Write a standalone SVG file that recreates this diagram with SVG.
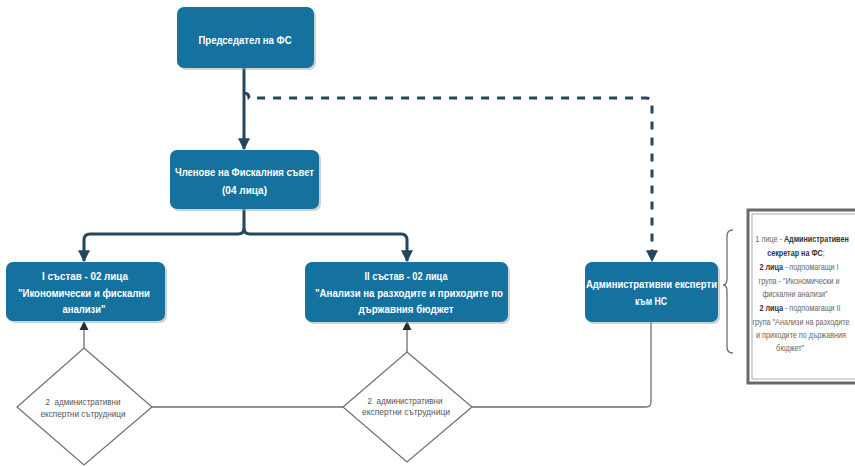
<svg xmlns="http://www.w3.org/2000/svg" width="855" height="466" viewBox="0 0 855 466">
<defs>
<style>
.box{fill:#15729f;}
.shadow{fill:#9aa6ad;opacity:0.5;}
.bt{font-family:"Liberation Sans",Arial,sans-serif;font-weight:bold;font-size:11px;fill:#ffffff;text-anchor:middle;}
.dt{font-family:"Liberation Sans",Arial,sans-serif;font-size:9px;fill:#555555;text-anchor:middle;}
.nt{font-family:"Liberation Sans",Arial,sans-serif;font-size:9.5px;fill:#666666;text-anchor:middle;}
.b{font-weight:bold;fill:#333333;}
.main{fill:none;stroke:#24465f;stroke-width:3;}
.thin{fill:none;stroke:#6e6e6e;stroke-width:1.3;}
.dia{fill:#ffffff;stroke:#6e6e6e;stroke-width:1.2;}
</style>
<marker id="ah" viewBox="0 0 10 10" refX="9" refY="5" markerWidth="4" markerHeight="4" orient="auto" markerUnits="strokeWidth">
<path d="M0,0 L10,5 L0,10 z" fill="#24465f"/>
</marker>
<marker id="ahs" viewBox="0 0 10 10" refX="9" refY="5" markerWidth="7" markerHeight="7" orient="auto" markerUnits="strokeWidth">
<path d="M0,0 L10,5 L0,10 z" fill="#1e2f3c"/>
</marker>
</defs>
<rect width="855" height="466" fill="#ffffff"/>

<g id="connectors">
<path class="main" d="M244,68 L244,149" marker-end="url(#ah)"/>
<path class="main" d="M244,93 q5,0 5,5 L646,98 q6,0 6,6 L652,261" stroke-dasharray="8,8" marker-end="url(#ah)"/>
<path class="main" d="M244,209 L244,228 q0,6 -6,6 L90,234 q-6,0 -6,6 L84,261" marker-end="url(#ah)"/>
<path class="main" d="M244,228 q0,6 6,6 L401,234 q6,0 6,6 L407,261" marker-end="url(#ah)"/>
<path class="thin" d="M84,348 L84,322" marker-end="url(#ahs)"/>
<path class="thin" d="M407,352 L407,322" marker-end="url(#ahs)"/>
<path class="thin" d="M152,407 L343,407"/>
<path class="thin" d="M472,407 L646,407 q5,0 5,-5 L651,322"/>
<path class="thin" d="M733,230 q-6,0 -6,6 L727,279 q0,6 -4,6 q4,0 4,6 L727,347 q0,6 6,6"/>
</g>

<g id="n1">
<rect class="shadow" x="179" y="9" width="137" height="61" rx="7"/>
<rect class="box" x="177" y="7" width="137" height="61" rx="7"/>
<text class="bt" x="245" y="44" textLength="93" lengthAdjust="spacingAndGlyphs">Председател на ФС</text>
</g>

<g id="n2">
<rect class="shadow" x="172" y="152" width="149" height="59" rx="7"/>
<rect class="box" x="170" y="150" width="149" height="59" rx="7"/>
<text class="bt" x="244.5" y="176" textLength="139" lengthAdjust="spacingAndGlyphs">Членове на Фискалния съвет</text>
<text class="bt" x="244.5" y="194" textLength="45" lengthAdjust="spacingAndGlyphs">(04 лица)</text>
</g>

<g id="n3">
<rect class="shadow" x="8" y="264" width="159" height="59" rx="7"/>
<rect class="box" x="6" y="262" width="159" height="59" rx="7"/>
<text class="bt" x="85" y="280" textLength="86" lengthAdjust="spacingAndGlyphs">I състав - 02 лица</text>
<text class="bt" x="84" y="297" textLength="132" lengthAdjust="spacingAndGlyphs">"Икономически и фискални</text>
<text class="bt" x="84" y="313" textLength="43" lengthAdjust="spacingAndGlyphs">анализи"</text>
</g>

<g id="n4">
<rect class="shadow" x="307" y="264" width="203" height="60" rx="7"/>
<rect class="box" x="305" y="262" width="203" height="60" rx="7"/>
<text class="bt" x="406" y="280" textLength="83" lengthAdjust="spacingAndGlyphs">II състав - 02 лица</text>
<text class="bt" x="409" y="297" textLength="188" lengthAdjust="spacingAndGlyphs">"Анализи на разходите и приходите по</text>
<text class="bt" x="406" y="313" textLength="95" lengthAdjust="spacingAndGlyphs">държавния бюджет</text>
</g>

<g id="n5">
<rect class="shadow" x="587" y="264" width="133" height="60" rx="7"/>
<rect class="box" x="585" y="262" width="133" height="60" rx="7"/>
<text class="bt" x="651.5" y="288" textLength="131" lengthAdjust="spacingAndGlyphs">Административни експерти</text>
<text class="bt" x="651" y="305" textLength="32" lengthAdjust="spacingAndGlyphs">към НС</text>
</g>

<g id="d1">
<polygon class="dia" points="84,348 152,407 84,465 17,407"/>
<text class="dt" x="83" y="405" textLength="75" lengthAdjust="spacingAndGlyphs">2&#160; административни</text>
<text class="dt" x="83" y="417" textLength="85" lengthAdjust="spacingAndGlyphs">експертни сътрудници</text>
</g>

<g id="d2">
<polygon class="dia" points="407,352 472,407 407,462 343,407"/>
<text class="dt" x="405" y="404" textLength="75" lengthAdjust="spacingAndGlyphs">2&#160; административни</text>
<text class="dt" x="406" y="415" textLength="88" lengthAdjust="spacingAndGlyphs">експертни сътрудници</text>
</g>

<g id="note">
<rect x="748" y="210" width="120" height="173" fill="#ffffff" stroke="#6a6a6a" stroke-width="3"/>
<rect x="752" y="214" width="112" height="165" fill="none" stroke="#9a9a9a" stroke-width="0.8"/>
<g transform="translate(800,0) scale(0.76,1)" class="nt">
<text x="2.6" y="242">1 лице - <tspan class="b">Административен</tspan></text>
<text x="-5.3" y="256"><tspan class="b">секретар на ФС</tspan>;</text>
<text x="-1.3" y="270"><tspan class="b">2 лица</tspan> - подпомагащи I</text>
<text x="-1.3" y="284">група - "Икономически и</text>
<text x="-6.6" y="297">фискални анализи"</text>
<text x="0" y="311"><tspan class="b">2 лица</tspan> - подпомагащи II</text>
<text x="1.3" y="325">група "Анализи на разходите</text>
<text x="1.3" y="338">и приходите по държавния</text>
<text x="-13" y="351">бюджет"</text>
</g>
</g>
</svg>
